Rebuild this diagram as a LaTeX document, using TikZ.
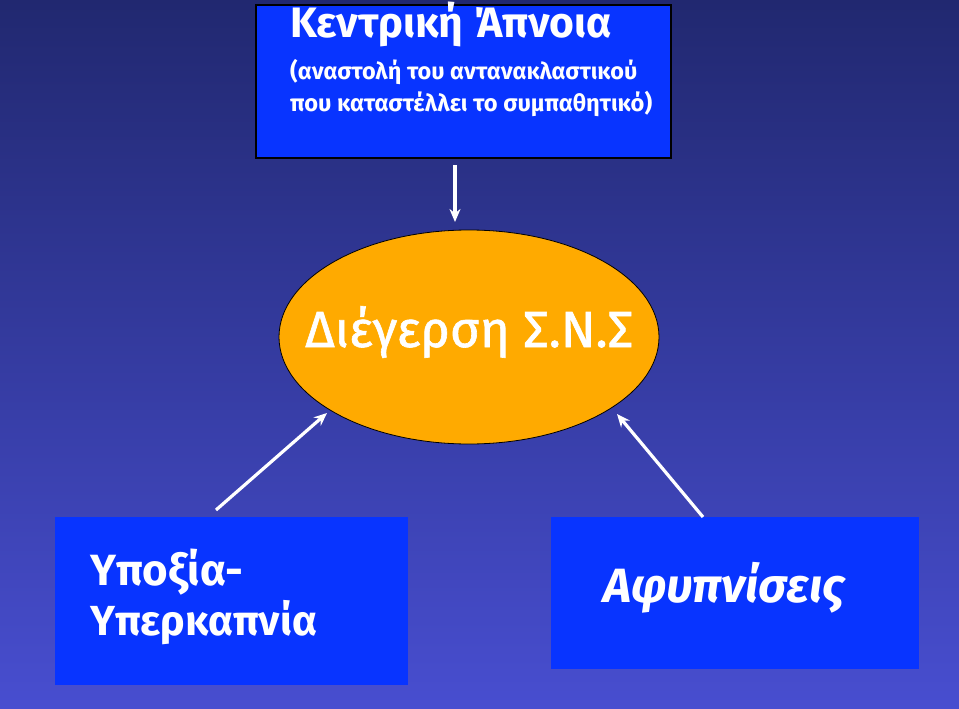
\documentclass[tikz,border=0pt]{standalone}
\usepackage{fontspec}
\setmainfont{Fira Sans}
\newfontfamily\firamed[FakeBold=1.2]{Fira Sans}
\usetikzlibrary{shapes.geometric,arrows.meta}
\definecolor{bgtop}{RGB}{33,40,112}
\definecolor{bgbot}{RGB}{72,78,208}
\definecolor{boxblue}{RGB}{8,52,255}
\definecolor{ellorange}{RGB}{255,170,0}
\tikzset{
  bluebox/.style={fill=boxblue},
  arr/.style={draw=white, line width=3.2pt, -{Stealth[length=13pt,width=11pt]}},
  txt/.style={text=white, inner sep=0pt, anchor=base west},
}
\begin{document}
\begin{tikzpicture}[x=1pt,y=-1pt]
\shade[top color=bgtop, bottom color=bgbot] (0,0) rectangle (959,709);
\useasboundingbox (0,0) rectangle (959,709);
% boxes
\node[bluebox, draw=black, line width=1.3pt, minimum width=415pt, minimum height=153pt, inner sep=0pt] (top) at (463.5,81.5) {};
\node[bluebox, minimum width=353pt, minimum height=168pt, inner sep=0pt] (left) at (231.5,601) {};
\node[bluebox, minimum width=368pt, minimum height=152pt, inner sep=0pt] (right) at (735,593) {};
\node[ellipse, fill=ellorange, draw=black, line width=0.8pt, minimum width=380pt, minimum height=214pt, inner sep=0pt] (ell) at (469,337) {};
% texts
\node[txt] (t1) at (290,38) {\resizebox{322pt}{!}{\bfseries Κεντρική Άπνοια}};
\node[txt] (t2) at (290,80) {\resizebox{347pt}{!}{\bfseries (αναστολή του αντανακλαστικού}};
\node[txt] (t3) at (290,112) {\resizebox{362pt}{!}{\bfseries που καταστέλλει το συμπαθητικό)}};
\node[txt] (t4) at (305,347) {\resizebox{328pt}{!}{\firamed Διέγερση Σ.Ν.Σ}};
\node[txt] (t5) at (90,585) {\resizebox{153pt}{!}{\bfseries Υποξία-}};
\node[txt] (t6) at (90,635) {\resizebox{227pt}{!}{\bfseries Υπερκαπνία}};
\node[txt] (t7) at (603,602) {\resizebox{242pt}{!}{\bfseries\itshape Αφυπνίσεις}};
% arrow endpoints
\coordinate (a1s) at (455,165);
\coordinate (a1e) at (455,222);
\coordinate (a2s) at (216,510);
\coordinate (a2e) at (327,413);
\coordinate (a3s) at (703,517);
\coordinate (a3e) at (617,414);
\draw[arr] (a1s) -- (a1e);
\draw[arr] (a2s) -- (a2e);
\draw[arr] (a3s) -- (a3e);
\end{tikzpicture}
\end{document}
